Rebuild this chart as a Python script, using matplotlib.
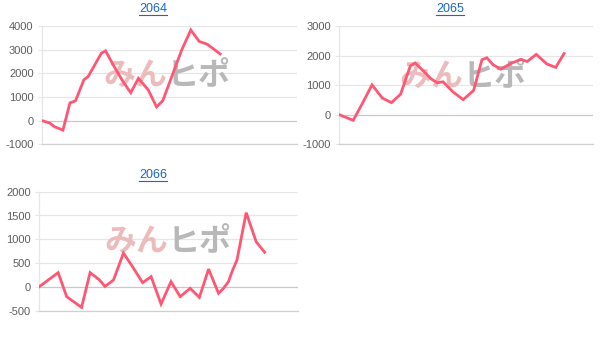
import matplotlib
matplotlib.use("Agg")
import matplotlib.pyplot as plt
from matplotlib.lines import Line2D

# day-of-year positions and cumulative balance for each year
DAYS_2064 = [0, 11, 18, 30, 40, 48, 60, 66, 75, 85, 91, 102, 116, 127, 138, 152, 164, 173, 200, 213, 225, 237, 255]
BAL_2064 = [0, -100, -260, -400, 750, 840, 1730, 1860, 2330, 2850, 2950, 2350, 1650, 1180, 1790, 1300, 580, 850, 2990, 3830, 3350, 3220, 2820]

DAYS_2065 = [0, 20, 34, 47, 62, 75, 88, 102, 109, 122, 132, 141, 149, 163, 178, 193, 205, 212, 221, 232, 248, 261, 270, 283, 298, 311, 323]
BAL_2065 = [0, -190, 420, 1010, 560, 410, 690, 1650, 1750, 1450, 1210, 1080, 1115, 780, 510, 820, 1860, 1925, 1690, 1540, 1750, 1870, 1800, 2040, 1720, 1600, 2070]

DAYS_2066 = [0, 27, 39, 60, 72, 85, 93, 105, 119, 132, 146, 158, 172, 186, 199, 213, 226, 239, 253, 260, 267, 272, 279, 292, 306, 318]
BAL_2066 = [0, 300, -205, -430, 300, 150, 10, 145, 710, 420, 90, 215, -360, 110, -205, -30, -220, 375, -135, -30, 110, 320, 565, 1560, 950, 727]

YEARS = ["2064", "2065", "2066"]
YTICKS = {
    "2064": [-1000, 0, 1000, 2000, 3000, 4000],
    "2065": [-1000, 0, 1000, 2000, 3000],
    "2066": [-500, 0, 500, 1000, 1500, 2000],
}

LINE_COLOR = "#ff5674"
GRID_COLOR = "#e6e6e6"
ZERO_COLOR = "#c8c8c8"
TITLE_COLOR = "#1a66c2"

W, H = 600, 339


def frac_rect(x0, y0, x1, y1):
    # pixel box (top-left origin) -> figure fraction rect
    return [x0 / W, 1 - y1 / H, (x1 - x0) / W, (y1 - y0) / H]


def style_axes(ax, ticks):
    ax.set_xlim(0, 365)
    ax.set_ylim(ticks[0], ticks[-1])
    ax.set_yticks(ticks)
    ax.set_yticklabels([str(t) for t in ticks], fontsize=8, color="#5e5e5e",
                       fontfamily="Liberation Sans")
    ax.set_xticks([])
    ax.tick_params(axis="y", length=3, width=0.8, color=GRID_COLOR, pad=3)
    for t in ticks:
        ax.axhline(t, color=ZERO_COLOR if t == 0 else GRID_COLOR, lw=0.9, zorder=0)
    for side in ["top", "right"]:
        ax.spines[side].set_visible(False)
    ax.spines["left"].set_color(GRID_COLOR)
    ax.spines["bottom"].set_color("#d0d0d0")
    ax.spines["left"].set_linewidth(0.9)
    ax.spines["bottom"].set_linewidth(0.9)
    ax.patch.set_alpha(0)


def watermark(ax, xc, yc):
    kw = dict(transform=ax.transAxes, fontsize=23, fontweight="bold",
              fontfamily=["Noto Sans CJK JP", "DejaVu Sans"], va="center", zorder=1)
    ax.text(xc, yc, "みん", color="#ecbcbc", ha="right", **kw)
    ax.text(xc, yc, "ヒポ", color="#b8b8b8", ha="left", **kw)


def title(fig, x, y, label, underline_y):
    txt = fig.text(x, y, label, color=TITLE_COLOR, fontsize=9, ha="center", va="center",
                   fontfamily="Liberation Sans")
    fig.canvas.draw()
    bb = txt.get_window_extent().transformed(fig.transFigure.inverted())
    fig.add_artist(Line2D([bb.x0, bb.x1], [underline_y, underline_y],
                          transform=fig.transFigure, color=TITLE_COLOR, lw=0.8))


def main() -> None:
    fig = plt.figure(figsize=(6, 3.39), dpi=100)

    data = {
        "2064": (DAYS_2064, BAL_2064),
        "2065": (DAYS_2065, BAL_2065),
        "2066": (DAYS_2066, BAL_2066),
    }
    rects = {
        "2064": frac_rect(42, 26, 297, 144.3),
        "2065": frac_rect(339.3, 26, 593.3, 144.3),
        "2066": frac_rect(39, 191.7, 298, 310.7),
    }
    marks = {"2064": (0.49, 0.575), "2065": (0.487, 0.57), "2066": (0.498, 0.58)}

    for year in YEARS:
        ax = fig.add_axes(rects[year])
        style_axes(ax, YTICKS[year])
        watermark(ax, *marks[year])
        days, bal = data[year]
        ax.plot(days, bal, color=LINE_COLOR, lw=2.0, zorder=3, solid_joinstyle="miter")

    title(fig, 0.255, 1 - 9.5 / H, "2064", 1 - 15 / H)
    title(fig, 0.75, 1 - 9.5 / H, "2065", 1 - 15 / H)
    title(fig, 0.255, 1 - 175.5 / H, "2066", 1 - 181 / H)

    fig.savefig("out.png", dpi=100)
    plt.close(fig)


if __name__ == "__main__":
    main()
